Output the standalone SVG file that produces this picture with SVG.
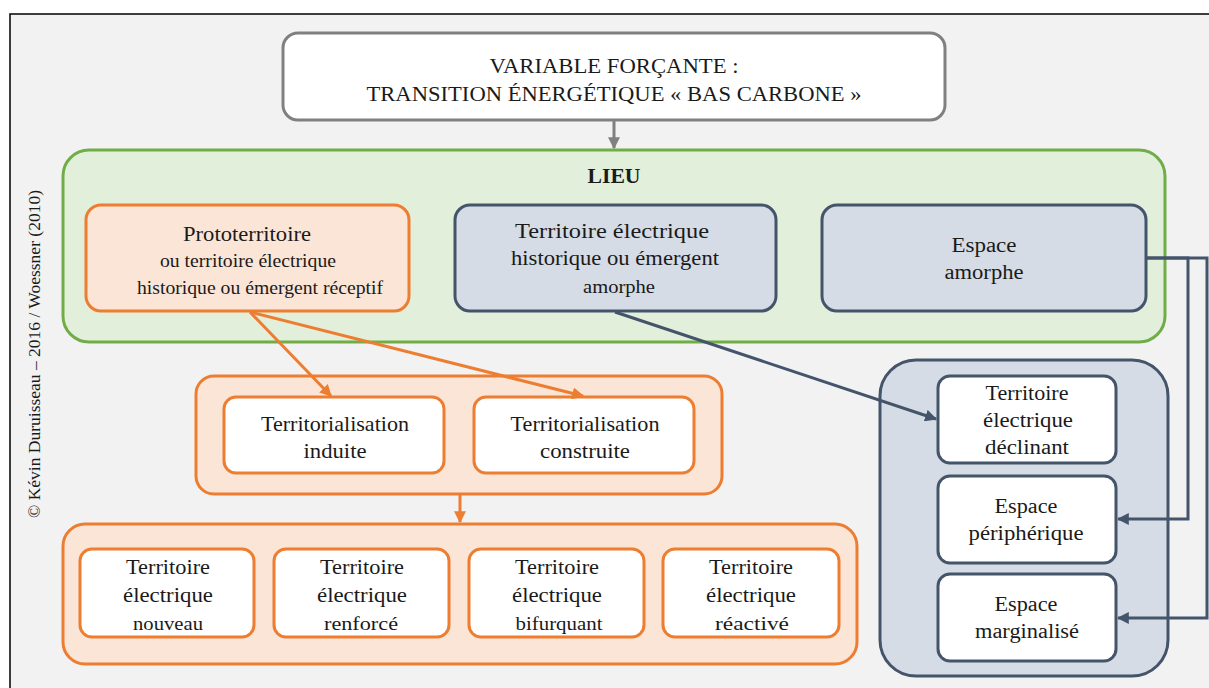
<svg xmlns="http://www.w3.org/2000/svg" width="1209" height="688" viewBox="0 0 1209 688">
<style>
text{fill:#1a1a1a;text-anchor:middle;font-family:"Liberation Serif",serif;font-size:20px}
.b{font-size:21px}
.or{fill:#fbe5d6;stroke:#ed7d31;stroke-width:3}
.ow{fill:#ffffff;stroke:#ed7d31;stroke-width:3}
.bl{fill:#d6dce5;stroke:#44546a;stroke-width:3}
.bw{fill:#ffffff;stroke:#44546a;stroke-width:3}
.co{fill:none;stroke:#ed7d31;stroke-width:3}
.cb{fill:none;stroke:#44546a;stroke-width:3}
.cg{fill:none;stroke:#808080;stroke-width:3}
</style>
<defs>
<marker id="ao" viewBox="0 0 10 10" refX="9" refY="5" markerWidth="4" markerHeight="4" orient="auto" markerUnits="strokeWidth"><path d="M0,0 L10,5 L0,10 z" fill="#ed7d31"/></marker>
<marker id="ab" viewBox="0 0 10 10" refX="9" refY="5" markerWidth="4" markerHeight="4" orient="auto" markerUnits="strokeWidth"><path d="M0,0 L10,5 L0,10 z" fill="#44546a"/></marker>
<marker id="ag" viewBox="0 0 10 10" refX="9" refY="5" markerWidth="4" markerHeight="4" orient="auto" markerUnits="strokeWidth"><path d="M0,0 L10,5 L0,10 z" fill="#808080"/></marker>
</defs>
<rect x="0" y="0" width="1209" height="688" fill="#ffffff"/>
<rect x="10" y="14" width="1210" height="690" fill="#f2f2f2" stroke="#000" stroke-width="1.5"/>
<text transform="translate(40,354) rotate(-90)" style="font-size:17px" textLength="328" lengthAdjust="spacingAndGlyphs">© Kévin Duruisseau – 2016 / Woessner (2010)</text>

<g id="lieu">
<rect x="63" y="150" width="1102" height="192" rx="26" fill="#e2efda" stroke="#70ad47" stroke-width="3"/>
<text x="614" y="183" font-weight="bold" textLength="53" lengthAdjust="spacingAndGlyphs">LIEU</text>
</g>
<g id="variable">
<rect x="283" y="33" width="662" height="87" rx="15" fill="#ffffff" stroke="#808080" stroke-width="3"/>
<text x="614" y="73" class="b" textLength="249" lengthAdjust="spacingAndGlyphs">VARIABLE FORÇANTE :</text>
<text x="614" y="101" class="b" textLength="495" lengthAdjust="spacingAndGlyphs">TRANSITION ÉNERGÉTIQUE « BAS CARBONE »</text>
</g>
<g id="proto">
<rect x="86" y="205" width="323" height="106" rx="15" class="or"/>
<text x="247" y="241" textLength="128" lengthAdjust="spacingAndGlyphs">Prototerritoire</text>
<text x="248" y="267" style="font-size:18.2px" textLength="176" lengthAdjust="spacingAndGlyphs">ou territoire électrique</text>
<text x="260" y="294" style="font-size:18.2px" textLength="246" lengthAdjust="spacingAndGlyphs">historique ou émergent réceptif</text>
</g>
<g id="amorphe-terr">
<rect x="455" y="205" width="321" height="106" rx="15" class="bl"/>
<text x="612" y="238" textLength="194" lengthAdjust="spacingAndGlyphs">Territoire électrique</text>
<text x="615" y="265" textLength="208" lengthAdjust="spacingAndGlyphs">historique ou émergent</text>
<text x="619" y="293" style="font-size:19px" textLength="72" lengthAdjust="spacingAndGlyphs">amorphe</text>
</g>
<g id="espace-amorphe">
<rect x="822" y="205" width="324" height="106" rx="15" class="bl"/>
<text x="984" y="252" textLength="65" lengthAdjust="spacingAndGlyphs">Espace</text>
<text x="984" y="279" textLength="79" lengthAdjust="spacingAndGlyphs">amorphe</text>
</g>
<g id="territorialisation">
<rect x="196" y="376" width="526" height="118" rx="18" class="or"/>
</g>
<g id="induite">
<rect x="224" y="397" width="220" height="76" rx="12" class="ow"/>
<text x="335" y="431" class="b" textLength="148" lengthAdjust="spacingAndGlyphs">Territorialisation</text>
<text x="335" y="458" class="b" textLength="63" lengthAdjust="spacingAndGlyphs">induite</text>
</g>
<g id="construite">
<rect x="474" y="397" width="220" height="76" rx="12" class="ow"/>
<text x="585" y="431" class="b" textLength="149" lengthAdjust="spacingAndGlyphs">Territorialisation</text>
<text x="585" y="458" class="b" textLength="90" lengthAdjust="spacingAndGlyphs">construite</text>
</g>
<g id="resultats">
<rect x="63" y="524" width="794" height="140" rx="22" class="or"/>
</g>
<g id="nouveau">
<rect x="80" y="549" width="174" height="88" rx="12" class="ow"/>
<text x="168" y="574" class="b" textLength="84" lengthAdjust="spacingAndGlyphs">Territoire</text>
<text x="168" y="602" class="b" textLength="90" lengthAdjust="spacingAndGlyphs">électrique</text>
<text x="168" y="630" style="font-size:19.1px" textLength="70" lengthAdjust="spacingAndGlyphs">nouveau</text>
</g>
<g id="renforce">
<rect x="274" y="549" width="175" height="88" rx="12" class="ow"/>
<text x="362" y="574" class="b" textLength="84" lengthAdjust="spacingAndGlyphs">Territoire</text>
<text x="362" y="602" class="b" textLength="90" lengthAdjust="spacingAndGlyphs">électrique</text>
<text x="361" y="630" style="font-size:19.5px" textLength="74" lengthAdjust="spacingAndGlyphs">renforcé</text>
</g>
<g id="bifurquant">
<rect x="469" y="549" width="175" height="88" rx="12" class="ow"/>
<text x="557" y="574" class="b" textLength="84" lengthAdjust="spacingAndGlyphs">Territoire</text>
<text x="557" y="602" class="b" textLength="90" lengthAdjust="spacingAndGlyphs">électrique</text>
<text x="559" y="630" style="font-size:19.3px" textLength="87" lengthAdjust="spacingAndGlyphs">bifurquant</text>
</g>
<g id="reactive">
<rect x="663" y="549" width="176" height="88" rx="12" class="ow"/>
<text x="751" y="574" class="b" textLength="84" lengthAdjust="spacingAndGlyphs">Territoire</text>
<text x="751" y="602" class="b" textLength="90" lengthAdjust="spacingAndGlyphs">électrique</text>
<text x="752" y="630" style="font-size:19.5px" textLength="74" lengthAdjust="spacingAndGlyphs">réactivé</text>
</g>
<g id="declin-group">
<rect x="880" y="360" width="288" height="316" rx="36" class="bl"/>
</g>
<g id="declinant">
<rect x="938" y="376" width="178" height="87" rx="12" class="bw"/>
<text x="1027" y="400" textLength="83" lengthAdjust="spacingAndGlyphs">Territoire</text>
<text x="1028" y="427" textLength="90" lengthAdjust="spacingAndGlyphs">électrique</text>
<text x="1027" y="454" textLength="84" lengthAdjust="spacingAndGlyphs">déclinant</text>
</g>
<g id="peripherique">
<rect x="938" y="476" width="178" height="87" rx="12" class="bw"/>
<text x="1026" y="513" textLength="63" lengthAdjust="spacingAndGlyphs">Espace</text>
<text x="1026" y="540" textLength="115" lengthAdjust="spacingAndGlyphs">périphérique</text>
</g>
<g id="marginalise">
<rect x="938" y="574" width="178" height="87" rx="12" class="bw"/>
<text x="1026" y="611" textLength="63" lengthAdjust="spacingAndGlyphs">Espace</text>
<text x="1027" y="638" textLength="104" lengthAdjust="spacingAndGlyphs">marginalisé</text>
</g>
<g id="connectors">
<line x1="614" y1="121" x2="614" y2="148" class="cg" marker-end="url(#ag)"/>
<line x1="250" y1="312" x2="331" y2="396" class="co" marker-end="url(#ao)"/>
<line x1="250" y1="312" x2="583" y2="396" class="co" marker-end="url(#ao)"/>
<line x1="460" y1="495" x2="460" y2="522" class="co" marker-end="url(#ao)"/>
<line x1="615" y1="312" x2="936" y2="419" class="cb" marker-end="url(#ab)"/>
<polyline points="1146,258 1188,258 1188,519 1118,519" class="cb" marker-end="url(#ab)"/>
<polyline points="1146,258 1207,258 1207,618 1118,618" class="cb" marker-end="url(#ab)"/>
</g>
</svg>
